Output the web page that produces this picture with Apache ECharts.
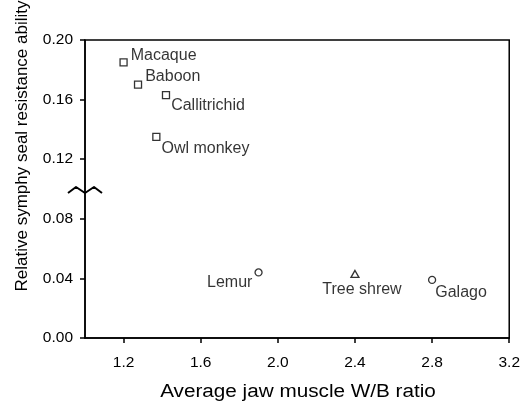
<!DOCTYPE html>
<html>
<head>
<meta charset="utf-8">
<script src="https://cdn.jsdelivr.net/npm/echarts@6/dist/echarts.min.js"></script>
<style>
  html, body { margin: 0; padding: 0; background: #fff; }
  #chart { width: 523px; height: 408px; }
</style>
</head>
<body>
<div id="chart"></div>
<script>
// data
const animals = ['Macaque', 'Baboon', 'Callitrichid', 'Owl monkey', 'Lemur', 'Tree shrew', 'Galago'];
const wbRatio = [1.2, 1.275, 1.42, 1.37, 1.9, 2.4, 2.8];
const sealResistance = [0.185, 0.17, 0.163, 0.135, 0.044, 0.043, 0.039];
const markerShape = ['rect', 'rect', 'rect', 'rect', 'circle', 'triangle', 'circle'];
const xTicks = [1.2, 1.6, 2.0, 2.4, 2.8, 3.2];
const yTicks = [0, 0.04, 0.08, 0.12, 0.16, 0.2];

const font = 'Liberation Sans, Arial, Helvetica, sans-serif';

// where each label sits relative to its marker
const labelPlace = {
  'Macaque': { position: 'right', distance: 3, offset: [0, -7] },
  'Baboon': { position: 'right', distance: 3, offset: [0, -8] },
  'Callitrichid': { position: 'right', distance: 1, offset: [0, 10] },
  'Owl monkey': { position: 'right', distance: 1, offset: [0, 12] },
  'Lemur': { position: 'left', distance: 2, offset: [0, 10] },
  'Tree shrew': { position: 'bottom', distance: 4, offset: [7, 0] },
  'Galago': { position: 'right', distance: 0, offset: [-1, 13] },
};

const points = animals.map((name, i) => ({
  name: name,
  value: [wbRatio[i], sealResistance[i]],
  symbol: markerShape[i],
  symbolSize: markerShape[i] === 'triangle' ? [8, 7] : 7,
  label: Object.assign({
    show: true,
    formatter: name,
    color: '#000',
    fontSize: 16,
    fontFamily: font,
  }, labelPlace[name]),
}));

const chart = echarts.init(document.getElementById('chart'));

chart.setOption({
  animation: false,
  grid: {
    left: 85,
    right: 12,
    top: 40,
    bottom: 70,
    show: true,
    borderColor: '#000',
    borderWidth: 1.5,
  },
  xAxis: {
    type: 'value',
    min: 1.0,
    max: 3.2,
    axisLine: { onZero: false, lineStyle: { color: '#000', width: 1.5 } },
    axisTick: { show: true, length: 5, customValues: xTicks, lineStyle: { color: '#000', width: 1.5 } },
    axisLabel: {
      customValues: xTicks,
      margin: 17,
      fontSize: 15.5,
      color: '#000',
      fontFamily: font,
      formatter: (v) => v.toFixed(1),
    },
    splitLine: { show: false },
  },
  yAxis: {
    type: 'value',
    min: 0,
    max: 0.2,
    interval: 0.04,
    axisLine: { show: true, onZero: false, lineStyle: { color: '#000', width: 1.5 } },
    axisTick: { show: true, length: 5, customValues: yTicks, lineStyle: { color: '#000', width: 1.5 } },
    axisLabel: {
      customValues: yTicks,
      margin: 12,
      fontSize: 15.5,
      color: '#000',
      fontFamily: font,
      formatter: (v) => v.toFixed(2),
    },
    splitLine: { show: false },
  },
  series: [
    {
      type: 'scatter',
      data: points,
      itemStyle: { color: '#fff', borderColor: '#000', borderWidth: 1.3 },
      emphasis: { disabled: true },
    },
  ],
});

// axis break mark on the y axis at 0.10, plus the two axis titles
const brk = chart.convertToPixel({ xAxisIndex: 0, yAxisIndex: 0 }, [1.0, 0.1]);
const bx = brk[0];
const by = brk[1];
chart.setOption({
  graphic: [
    {
      type: 'polyline',
      shape: {
        points: [
          [bx - 17, by + 4], [bx - 9, by - 2], [bx, by + 4],
          [bx + 9, by - 2], [bx + 17, by + 4],
        ],
      },
      style: { stroke: '#000', lineWidth: 2, fill: null, lineJoin: 'round' },
      z: 10,
    },
    {
      type: 'text',
      x: 22,
      y: 146,
      rotation: Math.PI / 2,
      style: {
        text: 'Relative symphy seal resistance ability',
        fontSize: 17,
        fontFamily: font,
        fill: '#000',
        align: 'center',
        verticalAlign: 'middle',
      },
    },
    {
      type: 'text',
      x: 298,
      y: 392,
      scaleX: 1.15,
      style: {
        text: 'Average jaw muscle W/B ratio',
        fontSize: 18,
        fontFamily: font,
        fill: '#000',
        align: 'center',
        verticalAlign: 'middle',
      },
    },
  ],
});
</script>
</body>
</html>
